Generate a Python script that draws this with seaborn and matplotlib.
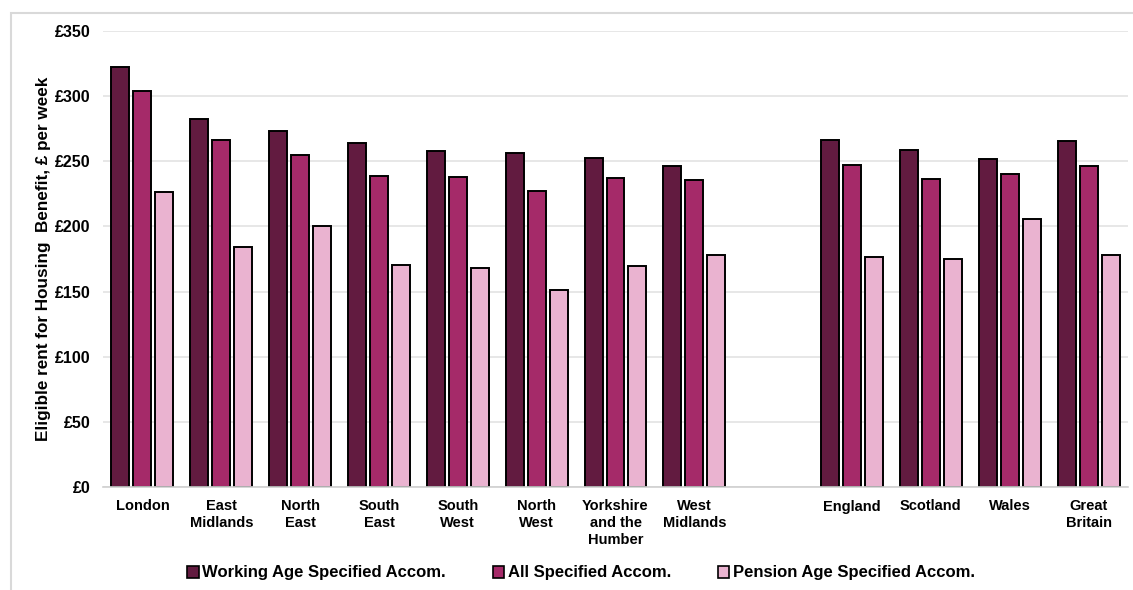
import matplotlib
matplotlib.use("Agg")
import matplotlib.pyplot as plt
from matplotlib.patches import Rectangle
import seaborn as sns
import pandas as pd

# Areas (English regions, then nations)
regions = ["London", "East\nMidlands", "North\nEast", "South\nEast", "South\nWest",
           "North\nWest", "Yorkshire\nand the\nHumber", "West\nMidlands"]
nations = ["England", "Scotland", "Wales", "Great\nBritain"]
areas = regions + nations

series_names = ["Working Age Specified Accom.", "All Specified Accom.",
                "Pension Age Specified Accom."]

working_age = [322.5, 282.2, 273.5, 264.0, 257.9, 256.1, 252.3, 246.7,
               266.3, 258.9, 251.7, 265.9]
all_specified = [303.9, 266.1, 254.9, 238.8, 237.9, 227.5, 237.4, 235.6,
                 247.3, 236.1, 240.0, 246.6]
pension_age = [226.2, 184.5, 200.5, 170.4, 167.8, 151.5, 169.9, 177.8,
               176.6, 175.2, 205.7, 177.9]

colors = ["#621B40", "#A52A69", "#EAB3D0"]

df = pd.DataFrame({
    "area": areas * 3,
    "series": [series_names[0]] * len(areas) + [series_names[1]] * len(areas)
              + [series_names[2]] * len(areas),
    "value": working_age + all_specified + pension_age,
})

sns.set_theme(style="white")
plt.rcParams["font.family"] = ["Liberation Sans", "DejaVu Sans"]
plt.rcParams["text.color"] = "black"
plt.rcParams["axes.labelcolor"] = "black"
plt.rcParams["xtick.color"] = "black"
plt.rcParams["ytick.color"] = "black"

fig = plt.figure(figsize=(11.33, 5.90), dpi=100)
ax = fig.add_axes([103 / 1133, 1 - 487 / 590, 1025 / 1133, 456 / 590])

# blank slot separates regions from nations
order = regions + [" "] + nations
sns.barplot(data=df, x="area", y="value", hue="series", order=order,
            hue_order=series_names, palette=colors, width=0.835, gap=0.18,
            edgecolor="black", linewidth=1.4, saturation=1, ax=ax, legend=False,
            errorbar=None)

ax.set_ylim(0, 350)
ax.set_yticks(range(0, 351, 50))
ax.set_yticklabels([f"£{v}" for v in range(0, 351, 50)], fontsize=11.5,
                   fontweight="bold")
ax.set_xticks(range(len(order)))
ax.set_xticklabels(order, fontsize=10.5, fontweight="bold", linespacing=1.25,
                   va="top")
ax.tick_params(axis="both", length=0)
ax.tick_params(axis="y", pad=9)
ax.tick_params(axis="x", pad=9)
ax.set_xlabel("")
ax.set_ylabel("Eligible rent for Housing  Benefit, £ per week", fontsize=12.3,
              fontweight="bold")
ax.yaxis.set_label_coords((51 - 103) / 1025, 0.5)
ax.grid(axis="y", color="#E3E3E3", linewidth=1.2)
ax.set_axisbelow(True)
for side in ["left", "right", "top"]:
    ax.spines[side].set_visible(False)
ax.spines["bottom"].set_color("#D0D0D0")
ax.spines["bottom"].set_linewidth(1.2)
ax.set_xlim(-0.5, len(order) - 0.5)

handles = [Rectangle((0, 0), 1, 1, facecolor=c, edgecolor="black", linewidth=1.2)
           for c in colors]
fig.legend(handles, series_names, loc="center", bbox_to_anchor=(581 / 1133, 1 - 573 / 590),
           ncol=3, frameon=False, handlelength=0.7, handleheight=0.7,
           handletextpad=0.2, columnspacing=2.8,
           prop={"size": 12, "weight": "bold"})

# chart-area border
fig.patches.append(Rectangle((11 / 1133, -0.1), 1.2, 1 - 13 / 590 + 0.1,
                             transform=fig.transFigure, fill=False,
                             edgecolor="#D9D9D9", linewidth=1.5))

fig.savefig("out.png", dpi=100)
